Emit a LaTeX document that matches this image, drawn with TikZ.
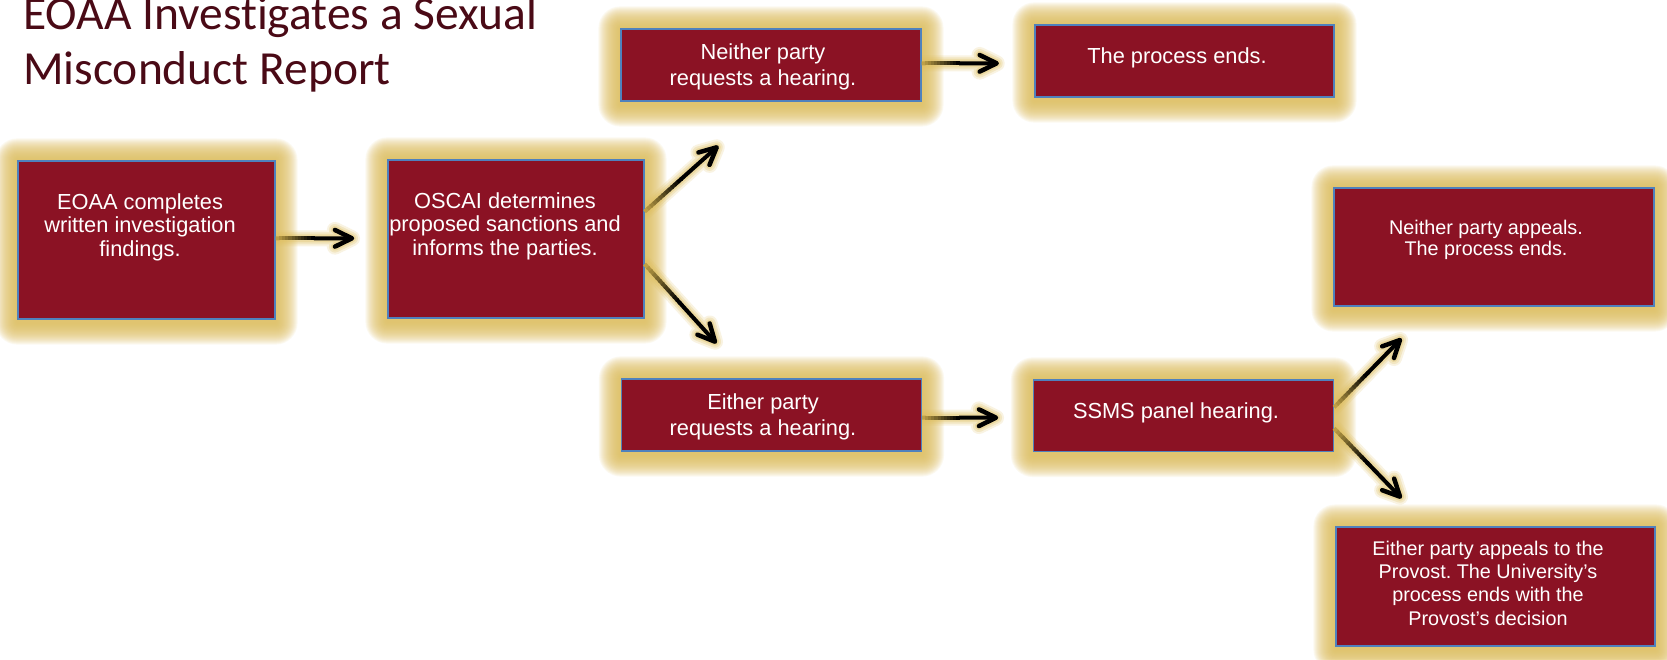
\documentclass[tikz,border=0pt]{standalone}
\usepackage{fontspec}
\usetikzlibrary{calc}
\newfontfamily\boxfont{Liberation Sans}
\newfontfamily\titlefont[Ligatures=NoCommon]{Carlito}
\definecolor{boxred}{RGB}{139,18,36}
\definecolor{boxline}{RGB}{79,129,189}
\definecolor{glowgold}{RGB}{224,192,96}
\definecolor{shaftgold}{RGB}{190,160,70}
\definecolor{titlecol}{RGB}{74,10,22}
\pgfdeclarelayer{paper}
\pgfdeclarelayer{halo}
\pgfsetlayers{paper,halo,main}
\frenchspacing

% multi-line texts are placed by the baseline of their last line
\tikzset{
  flowbox/.style={rectangle, draw=boxline, line width=1.2pt, fill=boxred, inner sep=0pt},
  boxtext/.style={text=white, align=center, inner sep=0pt, anchor=base,
    font=\boxfont\fontsize{21.8}{23.5}\selectfont},
  widetext/.style={boxtext, font=\boxfont\fontsize{21.8}{25.7}\selectfont},
  smalltext/.style={boxtext, font=\boxfont\fontsize{19.8}{#1}\selectfont},
  titletext/.style={text=titlecol, align=left, inner sep=0pt, anchor=base west,
    font=\titlefont\fontsize{47.5}{55}\selectfont},
}

% soft golden halo around a box
\newcommand\glowaround[1]{%
  \foreach \r in {22,21,...,1}{%
    \fill[glowgold, opacity=0.09, rounded corners=\r pt]
      ($(#1.north west)+(-\r,-\r)$) rectangle ($(#1.south east)+(\r,\r+3)$);
  }}

% halo under an arrow (shaft and head)
\newcommand\arrowhalo[2]{%
  \foreach \w/\o in {16/0.18,12/0.25,8/0.35}{%
    \draw[glowgold, line width=\w pt, opacity=\o, line cap=round, line join=round]
      (#1) -- (#2) ($(#2)!19pt!26:(#1)$) -- (#2) -- ($(#2)!19pt!-26:(#1)$);
  }}

% arrow whose shaft darkens from gold to black, with an open head
\newcommand\flowarrow[2]{%
  \foreach \i in {0,...,11}{%
    \pgfmathsetmacro\fa{\i/24}%
    \pgfmathsetmacro\fb{(\i+1.3)/24}%
    \pgfmathtruncatemacro\p{\i*100/11}%
    \draw[black!\p!shaftgold, line width=4pt] ($(#1)!\fa!(#2)$) -- ($(#1)!\fb!(#2)$);
  }%
  \draw[black, line width=4pt] ($(#1)!0.5!(#2)$) -- ($(#2)!3pt!(#1)$);
  \draw[black, line width=4.5pt, line cap=round, line join=round]
    ($(#2)!19pt!26:(#1)$) -- (#2) -- ($(#2)!19pt!-26:(#1)$);
}

\begin{document}
\begin{tikzpicture}[x=1pt,y=-1pt]
\useasboundingbox (0,0) rectangle (1667,659);
\begin{pgfonlayer}{paper}
  \fill[white] (0,0) rectangle (1667,659);
\end{pgfonlayer}

% title
\node[titletext] (title) at (23,84) {EOAA Investigates a Sexual\\Misconduct Report};

% boxes
\node[flowbox, minimum width=257pt, minimum height=158pt] (b1) at (146.5,240) {};
\node[flowbox, minimum width=256pt, minimum height=158pt] (b2) at (516,239) {};
\node[flowbox, minimum width=300pt, minimum height=72pt]  (b3) at (771,65) {};
\node[flowbox, minimum width=299pt, minimum height=72pt]  (b4) at (1184.5,61) {};
\node[flowbox, minimum width=300pt, minimum height=72pt]  (b5) at (771.5,415) {};
\node[flowbox, minimum width=300pt, minimum height=71.5pt] (b6) at (1183.5,415.7) {};
\node[flowbox, minimum width=320pt, minimum height=118pt] (b7) at (1494,247) {};
\node[flowbox, minimum width=319pt, minimum height=119pt] (b8) at (1495.5,586.5) {};

% box texts
\node[boxtext] (t1) at (140,256) {EOAA completes\\written investigation\\findings.};
\node[boxtext] (t2) at (505,255) {OSCAI determines\\proposed sanctions and\\informs the parties.};
\node[widetext] (t3) at (763,85) {Neither party\\requests a hearing.};
\node[boxtext] (t4) at (1177,63) {The process ends.};
\node[widetext] (t5) at (763,435) {Either party\\requests a hearing.};
\node[boxtext] (t6) at (1176,418) {SSMS panel hearing.};
\node[smalltext=21.7] (t7) at (1486,255.7) {Neither party appeals.\\The process ends.};
\node[smalltext=23.3] (t8) at (1488,625) {Either party appeals to the\\Provost. The University’s\\process ends with the\\Provost’s decision};

% arrow ends
\coordinate (a1t) at (352,238.3);
\coordinate (a1s) at (b1.east |- a1t);
\coordinate (a2s) at ($(b2.east)+(0,-27.3)$);
\coordinate (a2t) at (716.7,147.3);
\coordinate (a3s) at ($(b2.east)+(0,25)$);
\coordinate (a3t) at (715,341.7);
\coordinate (a4t) at (996.7,63.3);
\coordinate (a4s) at (b3.east |- a4t);
\coordinate (a5t) at (996,417.7);
\coordinate (a5s) at (b5.east |- a5t);
\coordinate (a6s) at ($(b6.east)+(0,-8.4)$);
\coordinate (a6t) at (1400,340);
\coordinate (a7s) at ($(b6.east)+(0,12.6)$);
\coordinate (a7t) at (1400,496.7);

\begin{pgfonlayer}{halo}
  \foreach \k in {1,...,8}{\glowaround{b\k}}
  \arrowhalo{a1s}{a1t}
  \arrowhalo{a2s}{a2t}
  \arrowhalo{a3s}{a3t}
  \arrowhalo{a4s}{a4t}
  \arrowhalo{a5s}{a5t}
  \arrowhalo{a6s}{a6t}
  \arrowhalo{a7s}{a7t}
\end{pgfonlayer}

\flowarrow{a1s}{a1t}
\flowarrow{a2s}{a2t}
\flowarrow{a3s}{a3t}
\flowarrow{a4s}{a4t}
\flowarrow{a5s}{a5t}
\flowarrow{a6s}{a6t}
\flowarrow{a7s}{a7t}
\end{tikzpicture}
\end{document}
